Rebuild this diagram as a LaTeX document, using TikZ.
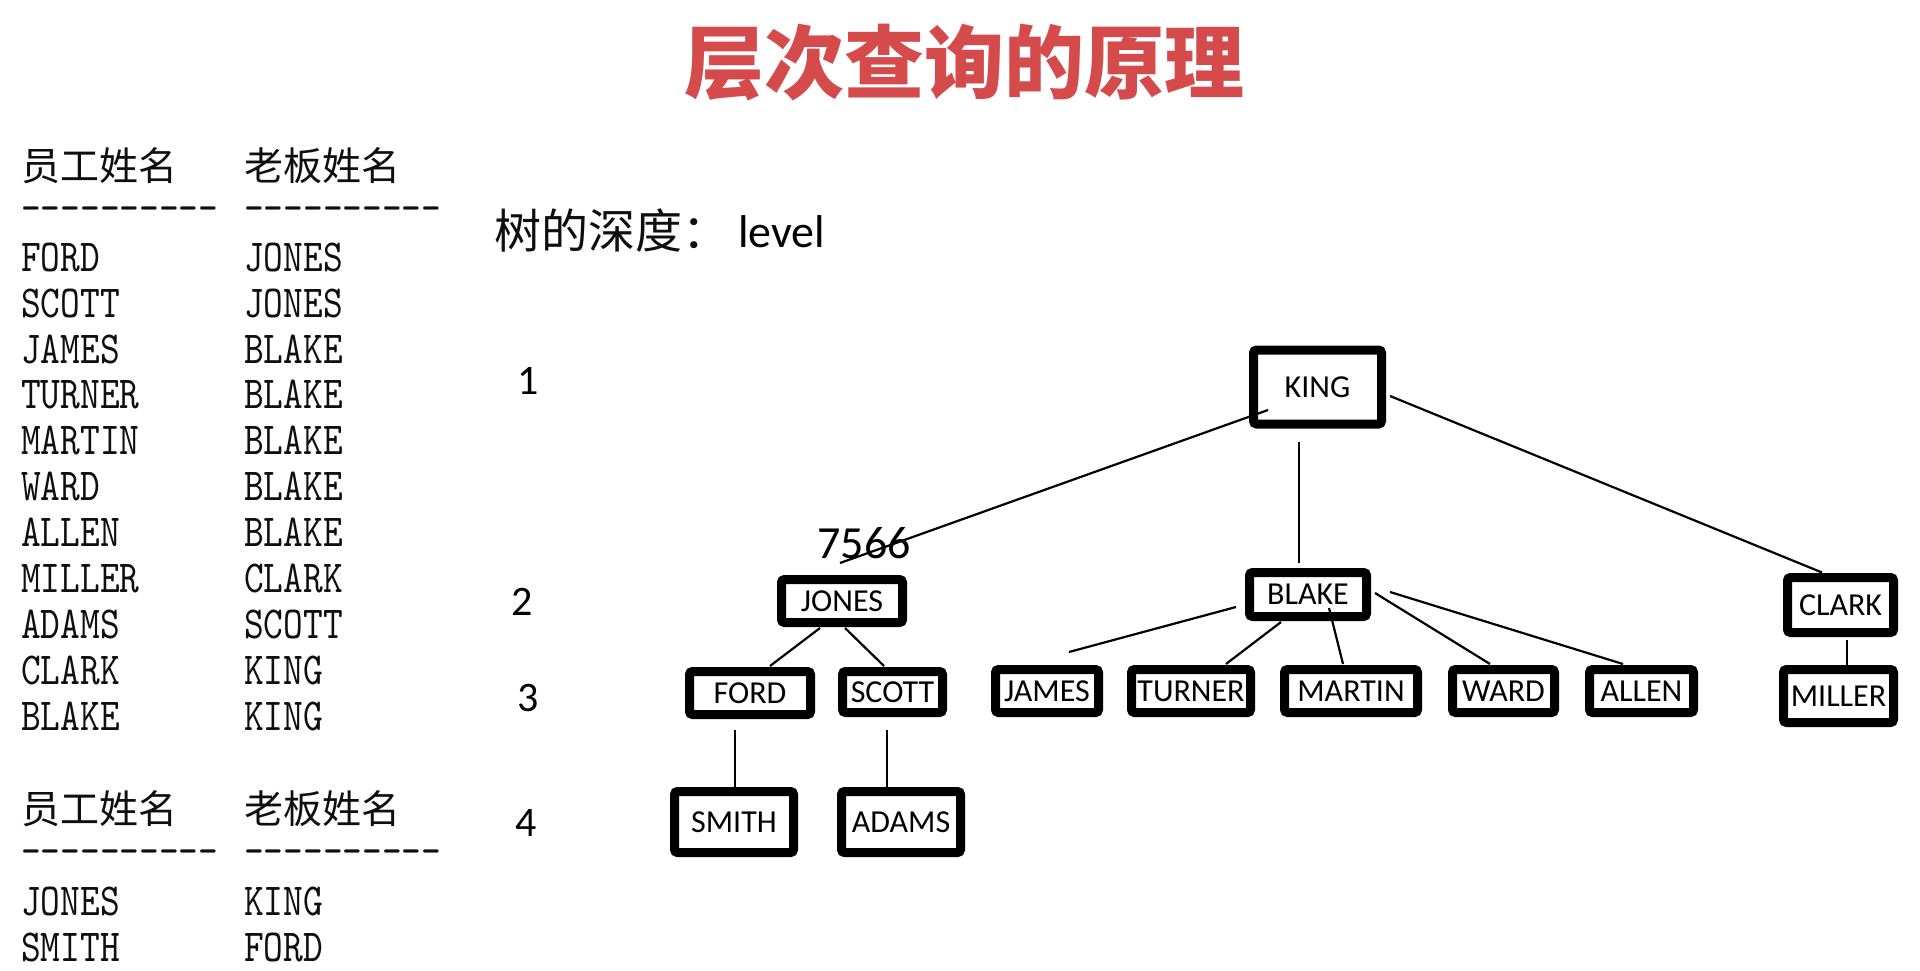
\documentclass[tikz,border=0pt]{standalone}
\usepackage{fontspec}
\setmainfont{Carlito}
\newfontfamily\cjk{Noto Sans CJK SC}
\newfontfamily\tabfont[FakeStretch=0.82]{lmmono10-regular.otf}
\definecolor{titlered}{RGB}{213,75,75}
\definecolor{ink}{RGB}{15,15,15}
\tikzset{
  treebox/.style={draw=black, line width=9pt, rounded corners=3pt, inner sep=0pt,
    font=\fontsize{32}{32}\selectfont, text height=20.6pt, text depth=0pt},
  link/.style={line width=2.2pt, draw=black},
  tabtxt/.style={anchor=base west, inner sep=0pt, font=\tabfont\fontsize{45.8}{46}\selectfont, text=ink},
  tabdash/.style={anchor=west, inner sep=0pt, font=\tabfont\fontsize{45.8}{46}\selectfont, text=ink},
  tabhead/.style={anchor=west, inner sep=0pt, font=\cjk\fontsize{39}{39}\selectfont, text=ink},
  lvl/.style={inner sep=0pt, font=\fontsize{42}{42}\selectfont},
}
\begin{document}
\begin{tikzpicture}[x=1pt,y=-1pt]
\useasboundingbox[fill=white] (0,0) rectangle (1920,971);

% title
\node[inner sep=0pt, text=titlered, font=\cjk\bfseries\fontsize{80}{80}\selectfont] (title) at (964,63) {层次查询的原理};

% left tables
\node[tabhead] (h1a) at (21,166) {员工姓名};
\node[tabhead] (h1b) at (244,166) {老板姓名};
\node[tabdash] (d1a) at (21,215) {----------};
\node[tabdash] (d1b) at (244,215) {----------};
\foreach \e/\b/\y [count=\i] in {FORD/JONES/271, SCOTT/JONES/317, JAMES/BLAKE/363, TURNER/BLAKE/408,
   MARTIN/BLAKE/454, WARD/BLAKE/500, ALLEN/BLAKE/546, MILLER/CLARK/592, ADAMS/SCOTT/638,
   CLARK/KING/684, BLAKE/KING/730}{
  \node[tabtxt] (ra\i) at (21,\y) {\e};
  \node[tabtxt] (rb\i) at (244,\y) {\b};
}
\node[tabhead] (h2a) at (21,809) {员工姓名};
\node[tabhead] (h2b) at (244,809) {老板姓名};
\node[tabdash] (d2a) at (21,858) {----------};
\node[tabdash] (d2b) at (244,858) {----------};
\node[tabtxt] (sa1) at (21,915) {JONES};
\node[tabtxt] (sb1) at (244,915) {KING};
\node[tabtxt] (sa2) at (21,961) {SMITH};
\node[tabtxt] (sb2) at (244,961) {FORD};

% depth label
\node[inner sep=0pt, anchor=west, font=\cjk\fontsize{47}{47}\selectfont, text=ink] (depth) at (494,231) {树的深度：};
\node[inner sep=0pt, anchor=base west, font=\fontsize{46}{46}\selectfont] (lvlword) at (738,247) {level};

% level numbers
\node[lvl] (l1) at (528,381) {1};
\node[lvl] (l2) at (522,602) {2};
\node[lvl] (l3) at (528,698) {3};
\node[lvl] (l4) at (526,823) {4};

% tree nodes
\node[treebox, minimum width=128pt, minimum height=74pt] (king) at (1317.5,387) {KING};
\node[treebox, minimum width=121pt, minimum height=43pt] (jones) at (842,601) {JONES};
\node[treebox, minimum width=117pt, minimum height=44pt] (blake) at (1308,594.5) {BLAKE};
\node[treebox, minimum width=106pt, minimum height=55pt] (clark) at (1840.5,605) {CLARK};
\node[treebox, minimum width=121pt, minimum height=43pt] (ford) at (750,693) {FORD};
\node[treebox, minimum width=100pt, minimum height=41pt] (scott) at (892.5,692) {SCOTT};
\node[treebox, minimum width=103pt, minimum height=43pt] (james) at (1047,691) {JAMES};
\node[treebox, minimum width=119pt, minimum height=43pt] (turner) at (1191,691) {TURNER};
\node[treebox, minimum width=133pt, minimum height=43pt] (martin) at (1351,691) {MARTIN};
\node[treebox, minimum width=102pt, minimum height=43pt] (ward) at (1503.5,691) {WARD};
\node[treebox, minimum width=104pt, minimum height=43pt] (allen) at (1641.5,691) {ALLEN};
\node[treebox, minimum width=110pt, minimum height=53pt] (miller) at (1838.5,696) {MILLER};
\node[treebox, minimum width=119pt, minimum height=61pt] (smith) at (734,822) {SMITH};
\node[treebox, minimum width=119pt, minimum height=61pt] (adams) at (901,822) {ADAMS};

% 7566 label
\node[inner sep=0pt, font=\fontsize{46}{46}\selectfont] (num) at (864,543) {7566};

% connectors
\draw[link] ([shift={(-49.5,23)}]king.center) -- ([shift={(-2,-38)}]jones.center);
\draw[link] ([shift={(-18.5,55)}]king.center) -- ([shift={(-9,-31.5)}]blake.center);
\draw[link] ([shift={(72.5,9)}]king.center) -- ([shift={(-18.5,-32.5)}]clark.center);

\draw[link] ([shift={(-72,12.5)}]blake.center) -- ([shift={(22,-39)}]james.center);
\draw[link] ([shift={(-27,27.5)}]blake.center) -- ([shift={(35,-27)}]turner.center);
\draw[link] ([shift={(21,13.5)}]blake.center) -- ([shift={(-8,-27)}]martin.center);
\draw[link] ([shift={(67,-1.5)}]blake.center) -- ([shift={(-13.5,-27)}]ward.center);
\draw[link] ([shift={(82,-2.5)}]blake.center) -- ([shift={(-18.5,-27)}]allen.center);

\draw[link] ([shift={(-22,27)}]jones.center) -- ([shift={(20,-27)}]ford.center);
\draw[link] ([shift={(3,27)}]jones.center) -- ([shift={(-8.5,-26)}]scott.center);
\draw[link] ([shift={(-15,37)}]ford.center) -- ([shift={(1,-35)}]smith.center);
\draw[link] ([shift={(-5.5,38)}]scott.center) -- ([shift={(-14,-35)}]adams.center);
\draw[link] ([shift={(6.5,35)}]clark.center) -- ([shift={(8.5,-31)}]miller.center);
\end{tikzpicture}
\end{document}
